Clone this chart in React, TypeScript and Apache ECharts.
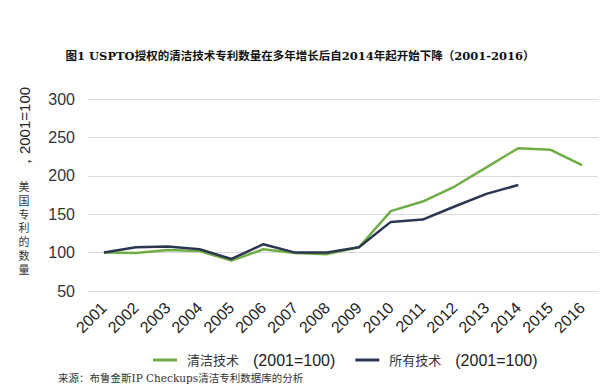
import React, { useEffect, useRef } from "react";
import * as echarts from "echarts";

const years = ["2001","2002","2003","2004","2005","2006","2007","2008","2009","2010","2011","2012","2013","2014","2015","2016"];
const cleanTech = [100, 99.5, 103.5, 102, 89.6, 104.3, 99.6, 98, 107, 154, 166.5, 186, 211, 236, 234, 214];
const allTech = [100, 107, 107.8, 104.3, 91.7, 110.9, 100, 100, 107, 140, 143, 160, 176.5, 188, null, null];
const seriesNames = ["清洁技术", "所有技术"];
const titleText = "图1 USPTO授权的清洁技术专利数量在多年增长后自2014年起开始下降（2001-2016）";
const sourceText = "来源：布鲁金斯IP Checkups清洁专利数据库的分析";
const yNameTop = "，2001=100";
const yNameBottom = "美\n国\n专\n利\n的\n数\n量";

export default function App() {
  const ref = useRef<HTMLDivElement>(null);
  useEffect(() => {
    if (!ref.current) return;
    const chart = echarts.init(ref.current, undefined, { renderer: "svg" });
    const sans = "'Liberation Sans', Arial, sans-serif";
    const serif = "'DejaVu Serif', 'Noto Sans CJK SC', serif";
    chart.setOption({
      animation: false,
      backgroundColor: "#ffffff",
      grid: { left: 88, right: 2, top: 99, bottom: 95, containLabel: false },
      xAxis: {
        type: "category",
        data: years,
        boundaryGap: true,
        axisLine: { show: false },
        axisTick: { show: false },
        axisLabel: { rotate: 45, fontSize: 16, fontFamily: sans, color: "#222", margin: 14, interval: 0 },
      },
      yAxis: {
        type: "value",
        min: 50,
        max: 300,
        interval: 50,
        axisLine: { show: false },
        axisTick: { show: false },
        splitLine: { lineStyle: { color: "#d9d9d9", width: 1 } },
        axisLabel: { fontSize: 16, fontFamily: sans, color: "#333", margin: 13 },
      },
      legend: {
        left: 148,
        top: 347,
        itemWidth: 24,
        itemHeight: 3,
        itemGap: 20,
        icon: "rect",
        data: seriesNames,
        formatter: (name: string) => `{a|${name}}{b|(2001=100)}`,
        textStyle: {
          rich: {
            a: { fontFamily: serif, fontSize: 13, color: "#333", padding: [0, 14, 0, 5] },
            b: { fontFamily: sans, fontSize: 16, color: "#222" },
          },
        },
      },
      series: [
        {
          name: seriesNames[0],
          type: "line",
          data: cleanTech,
          symbol: "none",
          lineStyle: { color: "#70ad47", width: 2.5 },
          itemStyle: { color: "#70ad47" },
        },
        {
          name: seriesNames[1],
          type: "line",
          data: allTech,
          symbol: "none",
          lineStyle: { color: "#2b3650", width: 2.5 },
          itemStyle: { color: "#2b3650" },
        },
      ],
      graphic: [
        {
          type: "text",
          left: "center",
          top: 50,
          style: { text: titleText, fontFamily: serif, fontSize: 11.5, fontWeight: "bold", fill: "#111" },
        },
        {
          type: "text",
          x: 24,
          y: 128,
          rotation: Math.PI / 2,
          style: { text: yNameTop, fontFamily: sans, fontSize: 15, fill: "#222", align: "center", verticalAlign: "middle" },
        },
        {
          type: "text",
          x: 24,
          y: 181,
          style: { text: yNameBottom, fontFamily: serif, fontSize: 11, lineHeight: 13.7, fill: "#333", align: "center", verticalAlign: "top" },
        },
        {
          type: "text",
          x: 58,
          y: 373,
          style: { text: sourceText, fontFamily: serif, fontSize: 10.5, fill: "#333" },
        },
      ],
    });
    return () => chart.dispose();
  }, []);
  return <div ref={ref} style={{ width: 600, height: 386, position: "absolute", left: 0, top: 0 }} />;
}
